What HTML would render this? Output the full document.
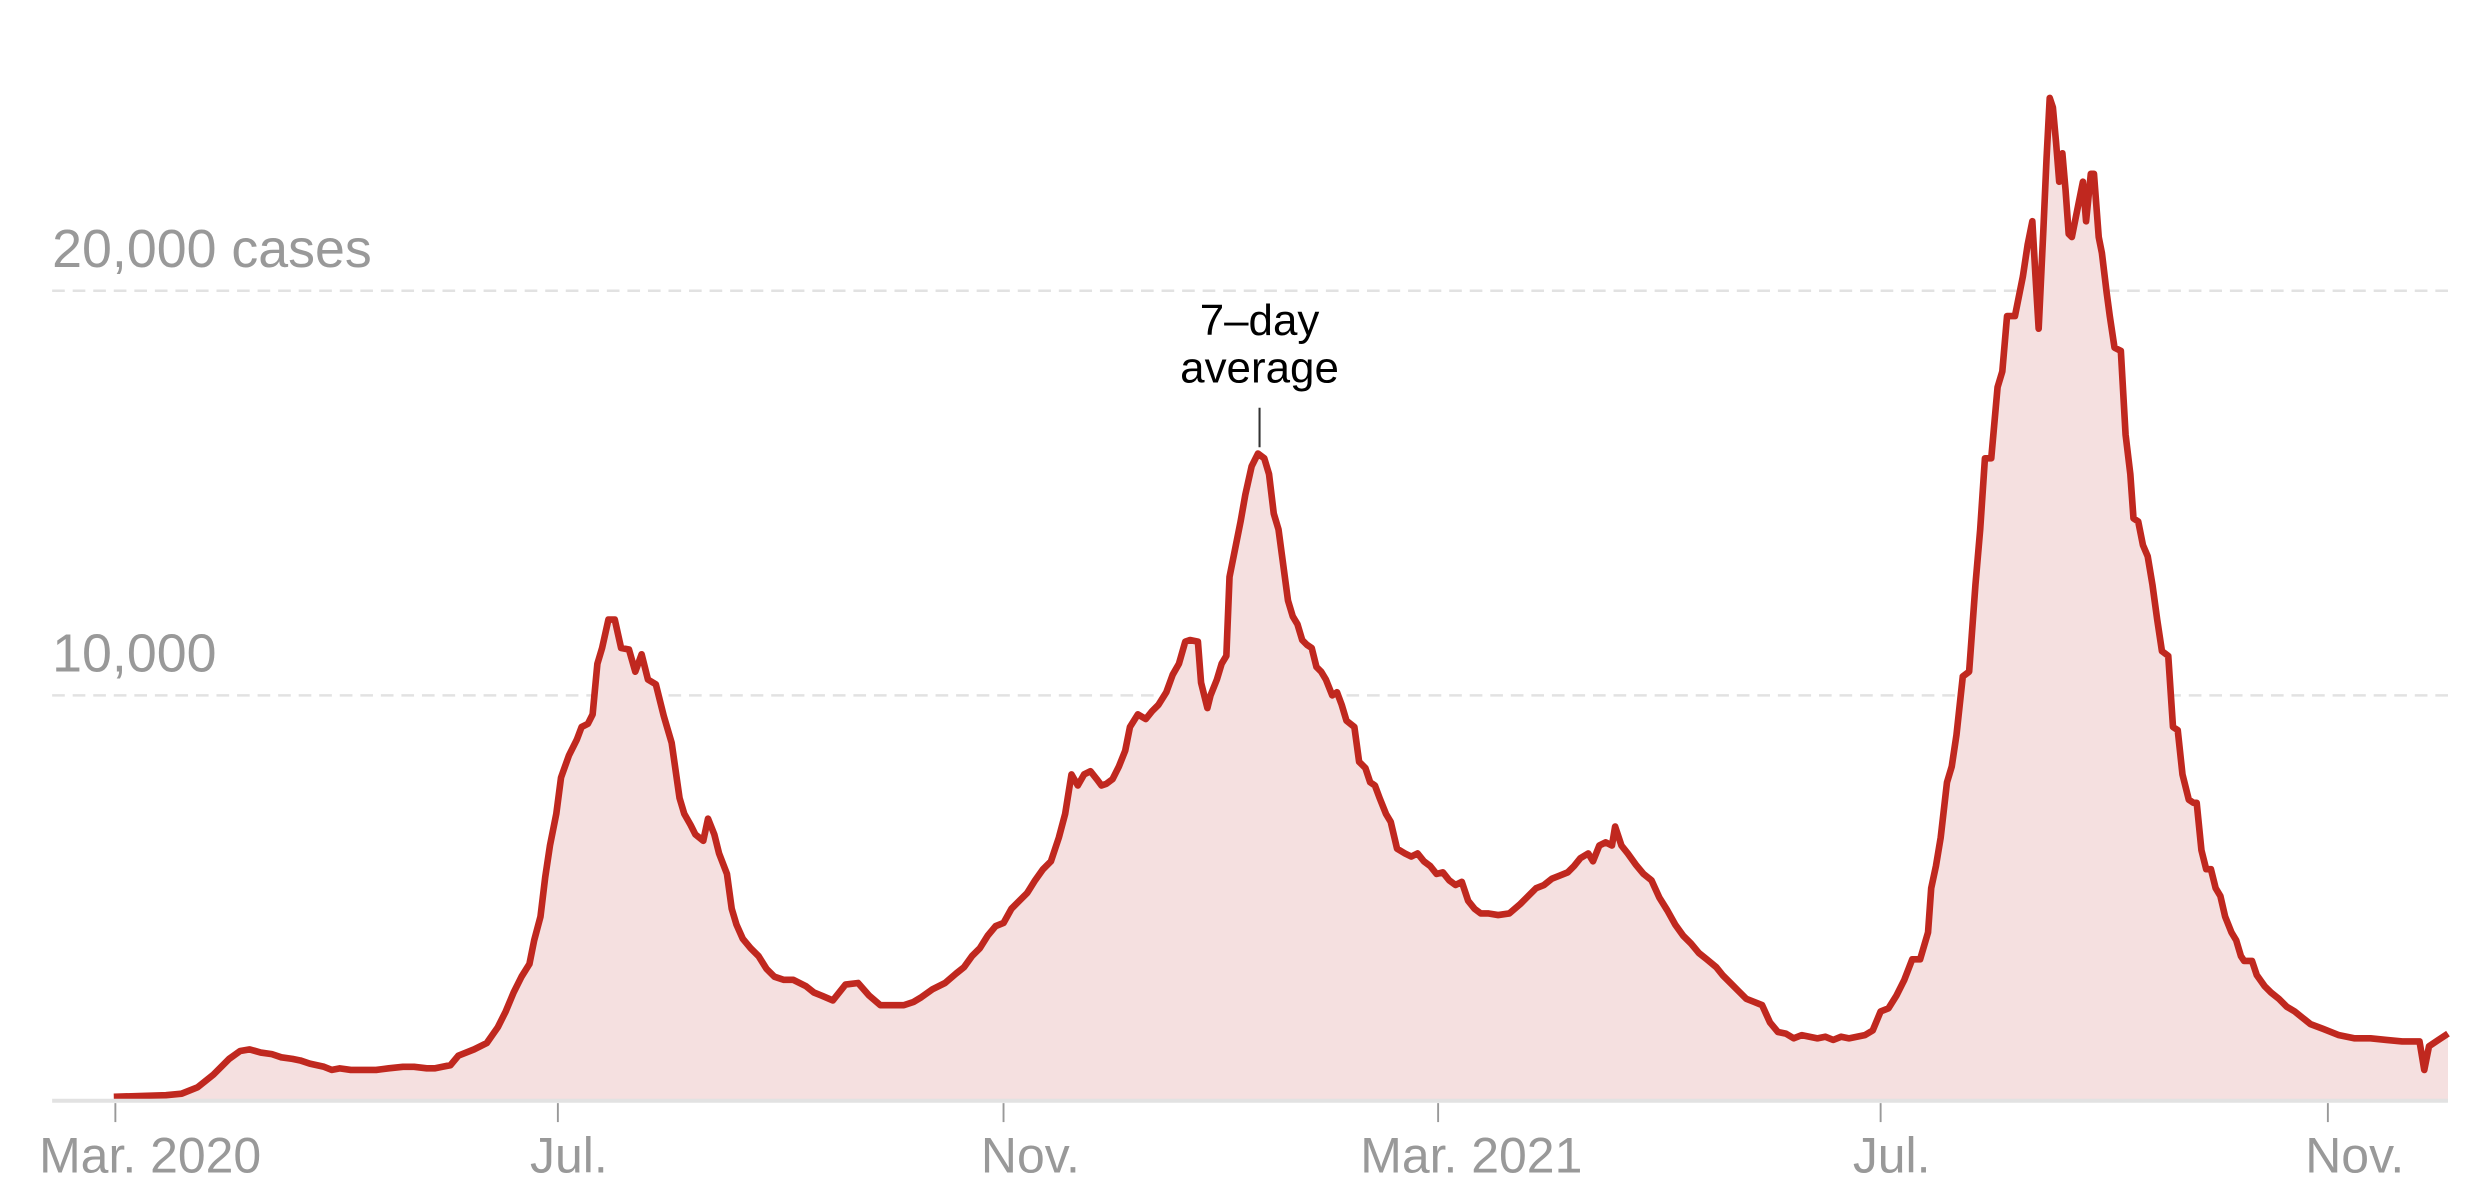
<!DOCTYPE html>
<html><head><meta charset="utf-8"><style>
html,body{margin:0;padding:0;background:#fff;width:2478px;height:1200px;overflow:hidden}
svg{display:block}
text{font-family:"Liberation Sans",sans-serif}
</style></head><body>
<svg width="2478" height="1200" viewBox="0 0 1568 759.3" preserveAspectRatio="none">
<g stroke="#e2e2e2" stroke-width="1.6" stroke-dasharray="8,5">
<line x1="33" y1="184" x2="1549" y2="184"/>
<line x1="33" y1="440" x2="1549" y2="440"/>
</g>
<text x="33" y="169" font-size="34" fill="#999">20,000 cases</text>
<text x="33" y="425" font-size="34" fill="#999">10,000</text>
<path id="d" fill="#f5e0e0" stroke="none" d=""/>
<polyline id="l" fill="none" stroke="#c0281f" stroke-width="4.2" stroke-linejoin="round" points=""/>
<line x1="33" y1="696.5" x2="1549" y2="696.5" stroke="#e2e2e2" stroke-width="2.6"/>
<g stroke="#999" stroke-width="1.2">
<line x1="73" y1="698" x2="73" y2="710"/><line x1="353" y1="698" x2="353" y2="710"/>
<line x1="635" y1="698" x2="635" y2="710"/><line x1="910" y1="698" x2="910" y2="710"/>
<line x1="1190" y1="698" x2="1190" y2="710"/><line x1="1473" y1="698" x2="1473" y2="710"/>
</g>
<g font-size="31.6" fill="#999" text-anchor="middle">
<text x="95" y="742">Mar. 2020</text><text x="360" y="742">Jul.</text>
<text x="652" y="742">Nov.</text><text x="931" y="742">Mar. 2021</text>
<text x="1197" y="742">Jul.</text><text x="1490" y="742">Nov.</text>
</g>
<g font-size="27.8" fill="#000" text-anchor="middle">
<text x="797" y="212">7–day</text><text x="797" y="242">average</text>
</g>
<line x1="797" y1="258" x2="797" y2="283" stroke="#333" stroke-width="1.3"/>
</svg>
<script>
var p=[72,694,105,693,115,692,125,688,135,680,145,670,152,665,158,664,165,666,172,667,178,669,185,670,190,671,196,673,205,675,210,677,215,676,222,677,230,677,238,677,246,676,255,675,262,675,270,676,275,676,280,675,285,674,290,668,300,664,308,660,315,650,320,640,325,628,330,618,335,610,338,595,342,580,345,555,348,535,352,515,355,492,360,478,365,468,368,460,372,458,375,452,378,420,381,410,385,392,389,392,393,410,398,411,402,425,406,414,410,430,415,433,420,453,425,470,430,505,433,515,437,522,440,528,445,532,448,518,452,528,455,540,460,553,463,575,466,585,470,594,475,600,480,605,485,613,490,618,496,620,502,620,510,624,515,628,520,630,527,633,535,623,543,622,550,630,557,636,565,636,572,636,578,634,583,631,590,626,598,622,605,616,610,612,615,605,620,600,625,592,630,586,635,584,640,575,645,570,650,565,655,557,660,550,665,545,670,530,674,515,678,490,682,497,686,490,690,488,694,493,697,497,700,496,704,493,708,485,712,475,715,460,720,452,725,455,729,450,733,446,738,438,742,427,746,420,750,406,753,405,758,406,760,432,764,448,766,440,770,430,773,420,776,415,778,365,782,345,785,330,788,313,792,295,796,287,800,290,803,300,806,325,809,335,811,350,815,380,818,390,821,395,824,405,827,408,830,410,833,422,836,425,839,430,843,440,846,438,849,446,852,456,857,460,860,482,864,486,867,495,870,497,873,505,877,515,880,520,884,537,889,540,893,542,897,540,901,545,905,548,909,553,913,552,917,557,921,560,925,558,929,570,933,575,937,578,942,578,948,579,955,578,962,572,967,567,972,562,977,560,982,556,987,554,992,552,996,548,1000,543,1005,540,1008,545,1012,535,1016,533,1020,535,1022,523,1026,535,1030,540,1035,547,1040,553,1045,557,1050,568,1055,576,1060,585,1065,592,1070,597,1075,603,1080,607,1086,612,1090,617,1095,622,1100,627,1105,632,1110,634,1115,636,1120,647,1125,653,1130,654,1135,657,1140,655,1145,656,1150,657,1155,656,1160,658,1165,656,1170,657,1175,656,1180,655,1185,652,1190,640,1195,638,1200,630,1205,620,1210,607,1215,607,1220,590,1222,562,1225,548,1228,530,1232,495,1235,485,1238,465,1242,428,1246,425,1250,370,1253,335,1256,290,1260,290,1264,245,1267,235,1270,200,1275,200,1280,175,1283,155,1286,140,1288,175,1290,208,1293,145,1295,100,1297,62,1299,68,1301,90,1303,115,1305,97,1307,120,1309,148,1311,150,1315,130,1318,115,1320,140,1323,110,1325,110,1328,150,1330,160,1333,185,1335,200,1338,220,1342,222,1345,275,1348,300,1350,328,1353,330,1356,345,1359,352,1362,370,1365,392,1368,412,1372,415,1375,460,1378,462,1381,490,1385,506,1388,508,1390,508,1393,538,1396,550,1399,550,1402,562,1405,567,1408,580,1412,590,1415,595,1418,605,1420,608,1425,608,1428,617,1433,624,1437,628,1442,632,1447,637,1452,640,1457,644,1462,648,1470,651,1480,655,1490,657,1500,657,1510,658,1520,659,1528,659,1531,659,1534,677,1537,662,1543,658,1549,654];
var s=[];for(var i=0;i<p.length;i+=2)s.push(p[i]+","+p[i+1]);
document.getElementById('l').setAttribute('points',s.join(' '));
document.getElementById('d').setAttribute('d','M72,696 L'+s.join(' L')+' L1549,696 Z');
</script>
</body></html>
